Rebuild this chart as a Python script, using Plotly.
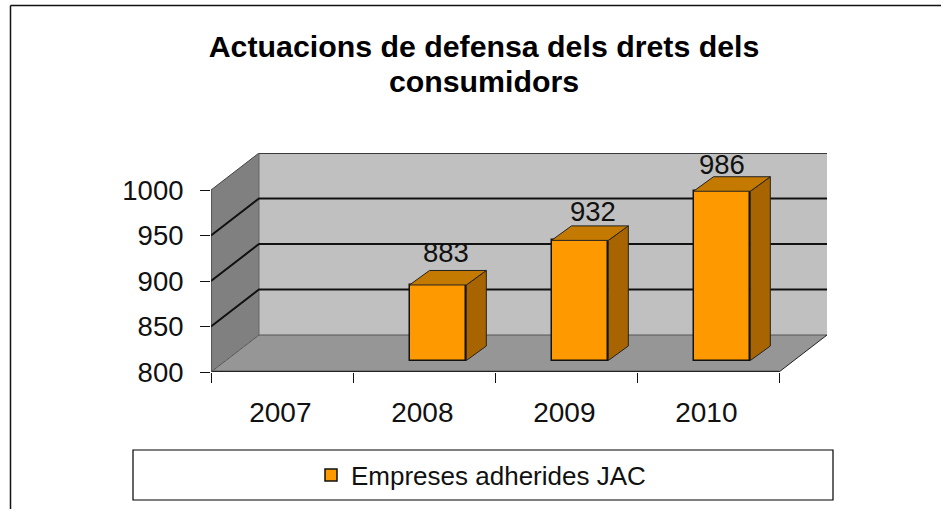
import plotly.graph_objects as go

# Data
years = ["2007", "2008", "2009", "2010"]
values = [None, 883, 932, 986]
series_name = "Empreses adherides JAC"
y_ticks = [800, 850, 900, 950, 1000]
title_text = ('<span style="font-size:30.3px">Actuacions de defensa dels drets dels</span><br>'
              '<span style="font-size:30.3px">consumidors</span>')

# Fake-3D projection constants, in axis units
WALL_DX, WALL_DY = 48 / 142, 37 / 0.91
BAR_INSET_X, BAR_BASE_DY = 0.098, 11.5 / 0.91
BAR_W = 0.4
BAR_DX, BAR_DY = 20 / 142, 14.5 / 0.91
LABEL_NUDGE = -0.012
Y0, Y1 = y_ticks[0], y_ticks[-1]
NX = len(years)
X_MAX = NX + WALL_DX
Y_MAX = Y1 + WALL_DY
LABEL_SHIFTS = {"2008": (8, 32), "2009": (13, 29), "2010": (0, 27)}

ORANGE, SIDE, TOP = "#ff9900", "#a86400", "#c47a00"


def poly(xs, ys, fill, line="rgba(0,0,0,0)", width=0):
    d = "M " + " L ".join(f"{x},{y}" for x, y in zip(xs, ys)) + " Z"
    return dict(type="path", path=d, xref="x", yref="y", fillcolor=fill,
                line=dict(color=line, width=width), layer="below")


def seg(xs, ys, color="#000000", width=2):
    d = "M " + " L ".join(f"{x},{y}" for x, y in zip(xs, ys))
    return dict(type="path", path=d, xref="x", yref="y",
                line=dict(color=color, width=width), layer="below")


shapes = [
    # outer frame (top and left only)
    dict(type="line", xref="paper", yref="paper", x0=-211 / 616 + 10.5 / 616, x1=730 / 616,
         y0=(372 - 5.5) / 219, y1=(372 - 5.5) / 219, line=dict(color="#111111", width=1.5)),
    dict(type="line", xref="paper", yref="paper", x0=-200.5 / 616, x1=-200.5 / 616,
         y0=(372 - 5.5) / 219, y1=(372 - 509) / 219, line=dict(color="#111111", width=1.5)),
    # legend box
    dict(type="rect", xref="paper", yref="paper", x0=(133 - 211) / 616, x1=(833 - 211) / 616,
         y0=(372 - 450) / 219, y1=(372 - 500) / 219, fillcolor="white",
         line=dict(color="black", width=1.2), layer="below"),
    # walls
    poly([WALL_DX, X_MAX, X_MAX, WALL_DX], [Y0 + WALL_DY, Y0 + WALL_DY, Y_MAX, Y_MAX], "#c0c0c0"),
    poly([0, WALL_DX, WALL_DX, 0], [Y0, Y0 + WALL_DY, Y_MAX, Y1], "#808080"),
    poly([0, NX, X_MAX, WALL_DX], [Y0, Y0, Y0 + WALL_DY, Y0 + WALL_DY], "#969696"),
    seg([WALL_DX, X_MAX], [Y0 + WALL_DY, Y0 + WALL_DY], "#555555", 1),
    seg([0, 0], [Y0, Y1], "#333333", 1),
    seg([0, NX], [Y0, Y0], "#222222", 2.5),
    seg([NX, X_MAX], [Y0, Y0 + WALL_DY], "#222222", 1),
    seg([0, WALL_DX], [Y1, Y_MAX], "#444444", 1),
    seg([0, WALL_DX], [Y0, Y0 + WALL_DY], "#555555", 1),
    seg([WALL_DX, WALL_DX], [Y0 + WALL_DY, Y_MAX], "#666666", 1),
]
for level in y_ticks[1:]:
    colour = "#3a3a3a" if level == Y1 else "#111111"
    shapes.append(seg([0, WALL_DX, X_MAX], [level, level + WALL_DY, level + WALL_DY], colour, 2)
                  if level != Y1 else seg([WALL_DX, X_MAX], [level + WALL_DY, level + WALL_DY], colour, 2))

fig = go.Figure()

xs = [i + 0.5 + BAR_INSET_X for i, v in enumerate(values)]
base = Y0 + BAR_BASE_DY

fig.add_trace(go.Bar(
    x=xs, y=[None if v is None else v - Y0 for v in values], base=base, width=BAR_W,
    name=series_name, marker=dict(color=ORANGE, line=dict(color="#111111", width=1.5)),
    showlegend=True, hoverinfo="skip"))

annotations = []
for year, x, v in zip(years, xs, values):
    if v is None:
        continue
    top = v + BAR_BASE_DY
    r = x + BAR_W / 2
    l = x - BAR_W / 2
    fig.add_trace(go.Scatter(
        x=[r, r + BAR_DX, r + BAR_DX, r, r], y=[base, base + BAR_DY, top + BAR_DY, top, base],
        mode="lines", fill="toself", fillcolor=SIDE, line=dict(color="#222222", width=1),
        showlegend=False, hoverinfo="skip"))
    fig.add_trace(go.Scatter(
        x=[l, l + BAR_DX, r + BAR_DX, r, l], y=[top, top + BAR_DY, top + BAR_DY, top, top],
        mode="lines", fill="toself", fillcolor=TOP, line=dict(color="#222222", width=1),
        showlegend=False, hoverinfo="skip"))
    sx, sy = LABEL_SHIFTS[year]
    annotations.append(dict(x=x, y=top, xref="x", yref="y", text=str(v), showarrow=False,
                            xshift=sx, yshift=sy, font=dict(size=27.5, color="#111111")))

fig.update_layout(
    width=941, height=509,
    margin=dict(l=211, r=114, t=153, b=137, autoexpand=False),
    paper_bgcolor="white", plot_bgcolor="rgba(0,0,0,0)",
    font=dict(family="Liberation Sans, Arial, sans-serif", color="#111111", size=25),
    title=dict(text=title_text, x=484 / 941, xanchor="center", y=1 - 57 / 509, yanchor="middle",
               font=dict(size=27, color="#000000", weight="bold")),
    shapes=shapes,
    annotations=annotations,
    showlegend=True,
    legend=dict(x=(311 - 211) / 616, y=(372 - 475) / 219, xanchor="left", yanchor="middle",
                bgcolor="rgba(0,0,0,0)", borderwidth=0, font=dict(size=26, color="#111111")),
    bargap=0,
    xaxis=dict(range=[0, X_MAX], tickmode="array", tickvals=[i + 0.5 + LABEL_NUDGE for i in range(NX)],
               ticktext=years, ticks="", showgrid=False, zeroline=False, showline=False,
               ticklabelstandoff=21, tickfont=dict(size=28),
               minor=dict(tickmode="array", tickvals=list(range(NX + 1)), ticks="outside",
                          ticklen=10, tickwidth=1, tickcolor="#111111", showgrid=False)),
    yaxis=dict(range=[Y0, Y_MAX], tickmode="array", tickvals=y_ticks, ticks="outside", ticklen=10,
               tickwidth=1, tickcolor="#111111", showgrid=False, zeroline=False, showline=False,
               ticklabelstandoff=11, tickfont=dict(size=27.5)),
)

fig.write_html("out.html", config=dict(displayModeBar=False),
               post_script="document.body.style.margin='0';document.body.style.overflow='hidden';")
